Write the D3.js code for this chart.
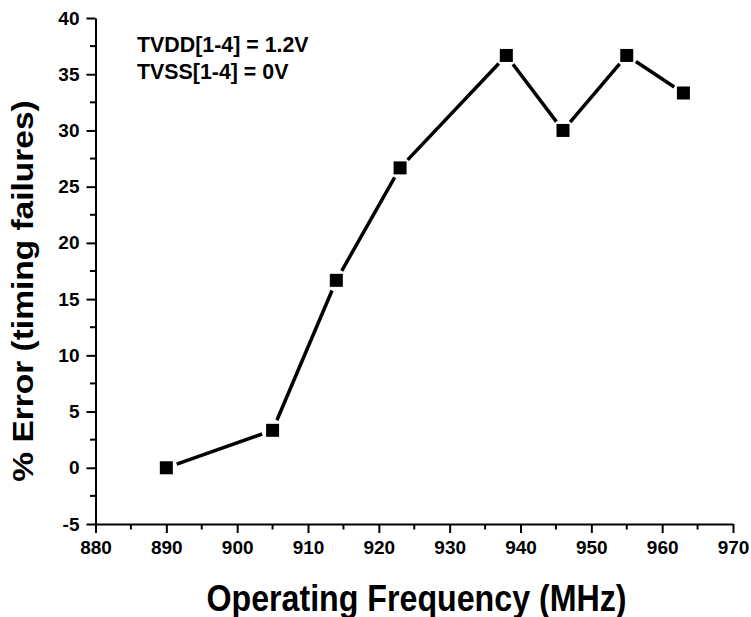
<!DOCTYPE html>
<html><head><meta charset="utf-8">
<script src="https://cdn.jsdelivr.net/npm/d3@7"></script>
<style>
body{margin:0;background:#fff}
svg{display:block}
svg text{font-family:"Liberation Sans",Arial,sans-serif;font-weight:bold;fill:#000}
</style>
</head><body><svg id="c" width="751" height="617"></svg>
<script>
const freq = [890, 905, 914, 923, 938, 946, 955, 963];
const errPct = [0, 3.33, 16.67, 26.67, 36.67, 30, 36.67, 33.33];
const xTicks = [880, 890, 900, 910, 920, 930, 940, 950, 960, 970];
const yTicks = [-5, 0, 5, 10, 15, 20, 25, 30, 35, 40];
const notes = ["TVDD[1-4] = 1.2V", "TVSS[1-4] = 0V"];

const svg = d3.select("#c");
const x = d3.scaleLinear().domain([880, 970]).range([95.5, 733]);
const y = d3.scaleLinear().domain([-5, 40]).range([524, 18]);

// minor ticks
const xMinor = d3.range(885, 970, 10);
const yMinor = d3.range(-2.5, 40, 5);
const g = svg.append("g");
g.selectAll(".xm").data(xMinor).join("line")
  .attr("x1", d => x(d)).attr("x2", d => x(d)).attr("y1", y(-5)).attr("y2", y(-5) + 5.5)
  .style("stroke", "#000").style("stroke-width", 2);
g.selectAll(".ym").data(yMinor).join("line")
  .attr("y1", d => y(d)).attr("y2", d => y(d)).attr("x1", x(880)).attr("x2", x(880) - 5.5)
  .style("stroke", "#000").style("stroke-width", 2);

const xAxis = svg.append("g").attr("transform", `translate(0,${y(-5)})`);
xAxis.call(d3.axisBottom(x).tickValues(xTicks).tickFormat(d3.format("d")).tickSize(9).tickPadding(8).tickSizeOuter(0));
const yAxis = svg.append("g").attr("transform", `translate(${x(880)},0)`);
yAxis.call(d3.axisLeft(y).tickValues(yTicks).tickFormat(d => d < 0 ? "-" + Math.abs(d) : String(d)).tickSize(9).tickPadding(7).tickSizeOuter(0));
[xAxis, yAxis].forEach(a => {
  a.selectAll(".domain").style("stroke", "#000").style("stroke-width", "2px");
  a.selectAll(".tick line").style("stroke", "#000").style("stroke-width", "2px");
  a.selectAll(".tick text").style("font-size", "19px").style("font-weight", "bold")
    .style("font-family", '"Liberation Sans",Arial,sans-serif').style("fill", "#000");
});

const pts = freq.map((f, i) => [f, errPct[i]]);
// line segments with gaps near markers
const gap = 11;
const segs = d3.pairs(pts).map(([a, b]) => {
  const x1 = x(a[0]), y1 = y(a[1]), x2 = x(b[0]), y2 = y(b[1]);
  const L = Math.hypot(x2 - x1, y2 - y1), ux = (x2 - x1) / L, uy = (y2 - y1) / L;
  return [x1 + ux * gap, y1 + uy * gap, x2 - ux * gap, y2 - uy * gap];
});
svg.append("g").selectAll("line").data(segs).join("line")
  .attr("x1", d => d[0]).attr("y1", d => d[1]).attr("x2", d => d[2]).attr("y2", d => d[3])
  .style("stroke", "#000").style("stroke-width", 3.5);
const s = 13;
svg.append("g").selectAll("rect").data(pts).join("rect")
  .attr("x", d => x(d[0]) - s / 2).attr("y", d => y(d[1]) - s / 2)
  .attr("width", s).attr("height", s).style("fill", "#000");

svg.append("g").selectAll("text").data(notes).join("text")
  .attr("transform", (d, i) => `translate(137,${52 + i * 27}) scale(0.95,1)`)
  .style("font-size", "22.5px").text(d => d);

svg.append("text").attr("transform", "translate(416.5,611) scale(0.87,1)").attr("text-anchor", "middle")
  .style("font-size", "37px").text("Operating Frequency (MHz)");
svg.append("text").attr("transform", "translate(32.5,291) scale(0.87,1) rotate(-90)").attr("text-anchor", "middle")
  .style("font-size", "33.5px").text("% Error (timing failures)");
</script></body></html>
